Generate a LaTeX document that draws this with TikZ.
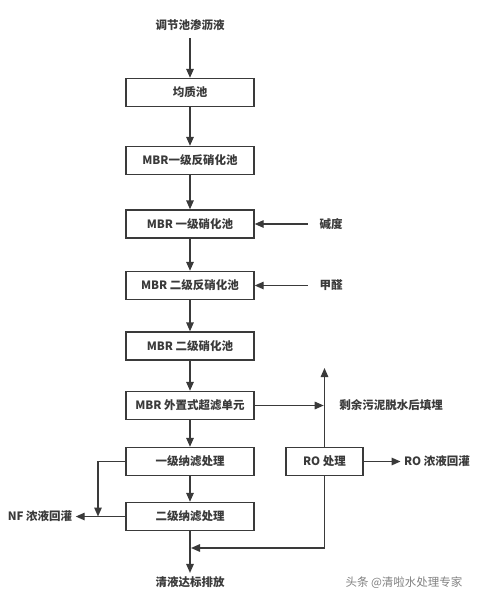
\documentclass[tikz,border=0pt]{standalone}
\usepackage{fontspec}
\setmainfont{Noto Sans CJK SC}
\usetikzlibrary{arrows.meta}
\definecolor{flowgray}{HTML}{3A3A3A}
\begin{document}
\begin{tikzpicture}[x=1pt,y=-1pt,font=\fontsize{11.5}{13}\selectfont\bfseries,
  every node/.style={text=flowgray},
  unit/.style={draw=flowgray,line width=1.4pt,minimum width=128pt,minimum height=28pt,inner sep=0pt},
  flow/.style={draw=flowgray,line width=1.4pt,-{Triangle[length=9pt,width=7.5pt]}}]
\useasboundingbox (0,0) rectangle (477,605);
\node (feed) at (190,25) {调节池渗沥液};
\node[unit] (eq) at (190,92.5) {均质池};
\node[unit] (dn1) at (190,160.5) {MBR一级反硝化池};
\node[unit] (n1) at (190,224) {MBR 一级硝化池};
\node[unit] (dn2) at (190,285.5) {MBR 二级反硝化池};
\node[unit] (n2) at (190,346) {MBR 二级硝化池};
\node[unit] (uf) at (190,405.5) {MBR 外置式超滤单元};
\node[unit] (nf1) at (190,461.5) {一级纳滤处理};
\node[unit] (nf2) at (190,516.5) {二级纳滤处理};
\node[unit,minimum width=77pt] (ro) at (324.5,461.5) {RO 处理};
\node (alk) at (331,224) {碱度};
\node (form) at (331,285.5) {甲醛};
\node (sludge) at (391,405.5) {剩余污泥脱水后填埋};
\node (roconc) at (437,461.5) {RO 浓液回灌};
\node (nfconc) at (40,516.5) {NF 浓液回灌};
\node (clear) at (190,582) {清液达标排放};
\node[font=\fontsize{11.5}{13}\selectfont,text=gray] (mark) at (404,583) {头条 @清啦水处理专家};
\coordinate (roup) at (324.5,368);
\coordinate (rojoin) at (324.5,548);
\coordinate (outjoin) at (190,548);
\coordinate (nfbend) at (98,461.5);
\coordinate (nfjoin) at (98,516.5);
\draw[flow,shorten <=4pt] (feed) -- (eq);
\draw[flow] (eq) -- (dn1);
\draw[flow] (dn1) -- (n1);
\draw[flow] (n1) -- (dn2);
\draw[flow] (dn2) -- (n2);
\draw[flow] (n2) -- (uf);
\draw[flow] (uf) -- (nf1);
\draw[flow] (nf1) -- (nf2);
\draw[flow] (nf2) -- (clear);
\draw[flow,shorten <=8pt] (alk) -- (n1);
\draw[flow,shorten <=8pt] (form) -- (dn2);
\draw[flow,shorten >=12pt] (uf) -- (sludge);
\draw[flow] (ro) -- (roup);
\draw[flow] (ro) -- (roconc);
\draw[flow,shorten >=1pt] (ro) -- (rojoin) -- (outjoin);
\draw[flow] (nf1) -- (nfbend) -- (nfjoin);
\draw[flow] (nf2) -- (nfconc);
\end{tikzpicture}
\end{document}
